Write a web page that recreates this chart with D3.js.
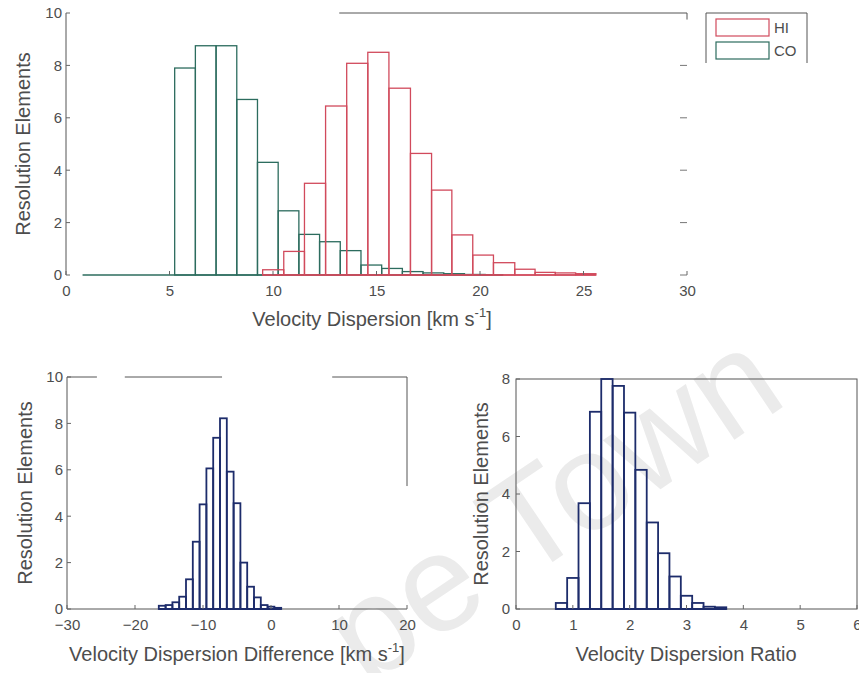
<!DOCTYPE html>
<html lang="en">
<head>
    <meta charset="UTF-8">
    <title>Velocity dispersion histograms</title>
    <script src="https://cdn.jsdelivr.net/npm/d3@7/dist/d3.min.js"></script>
    <style>
        body { margin: 0; background: #fff; }
        text { font-family: "Liberation Sans", Arial, sans-serif; fill: #4d4d4d; }
        .tick-label { font-size: 15px; }
        .axis-label { font-size: 20px; }
        .frame { fill: none; stroke: #555; stroke-width: 1; }
    </style>
</head>
<body>
<script>
    // --- data: bin edges (n+1) and counts (n) ---
    var coEdges = [0.8, 5.25, 6.25, 7.25, 8.25, 9.25, 10.25, 11.25, 12.25, 13.25, 14.25, 15.25, 16.25, 17.25, 18.25, 19.25, 20.25, 21.1];
    var coCounts = [0, 7.9, 8.75, 8.75, 6.7, 4.3, 2.45, 1.55, 1.27, 0.93, 0.38, 0.25, 0.13, 0.08, 0.05, 0.02, 0.01];
    var hiEdges = [9.5, 10.52, 11.52, 12.54, 13.56, 14.58, 15.6, 16.64, 17.66, 18.64, 19.65, 20.65, 21.68, 22.66, 23.64, 24.62, 25.6];
    var hiCounts = [0.2, 0.9, 3.5, 6.45, 8.08, 8.5, 7.13, 4.64, 3.24, 1.53, 0.76, 0.47, 0.22, 0.1, 0.08, 0.05];
    var diffEdges = [-16.5, -15.5, -14.5, -13.5, -12.5, -11.5, -10.5, -9.5, -8.5, -7.5, -6.5, -5.5, -4.5, -3.5, -2.5, -1.5, -0.5, 0.5, 1.5];
    var diffCounts = [0.14, 0.17, 0.29, 0.53, 1.28, 2.9, 4.51, 6.06, 7.38, 8.22, 5.92, 4.56, 2.0, 0.96, 0.5, 0.17, 0.1, 0.05];
    var ratioEdges = [0.7, 0.9, 1.1, 1.3, 1.5, 1.7, 1.9, 2.1, 2.3, 2.5, 2.7, 2.9, 3.1, 3.3, 3.5, 3.7];
    var ratioCounts = [0.21, 1.08, 3.68, 6.86, 8.0, 7.76, 6.83, 4.84, 3.01, 1.94, 1.13, 0.46, 0.21, 0.08, 0.06];

    // tick labels
    var topXTicks = [0, 5, 10, 15, 20, 25, 30];
    var topYTicks = [0, 2, 4, 6, 8, 10];
    var diffXTicks = [-30, -20, -10, 0, 10, 20];
    var diffYTicks = [0, 2, 4, 6, 8, 10];
    var ratioXTicks = [0, 1, 2, 3, 4, 5, 6];
    var ratioYTicks = [0, 2, 4, 6, 8];

    var legendNames = ["HI", "CO"];
    var hiColor = "#d14a5c", coColor = "#2c6c5e", navy = "#1d2c6b";

    var width = 859, height = 673;
    var svg = d3.select("body")
        .append("svg")
        .attr("width", width)
        .attr("height", height);

    // watermark, faint and behind everything
    svg.append("text")
        .attr("transform", "translate(366,688) rotate(-34)")
        .style("font-size", "138px")
        .style("fill", "#ebebeb")
        .text("pe Town");

    function makePanel(box, xDomain, yDomain) {
        var x = d3.scaleLinear().domain(xDomain).range([box.left, box.right]);
        var y = d3.scaleLinear().domain(yDomain).range([box.bottom, box.top]);
        return {x: x, y: y, box: box, g: svg.append("g")};
    }

    // outline histogram bars, one rect per bin
    function drawBars(p, edges, counts, color, lw) {
        var bins = counts.map(function (c, i) { return {x0: edges[i], x1: edges[i + 1], c: c}; });
        p.g.append("g").selectAll("rect")
            .data(bins)
            .enter()
            .append("rect")
            .attr("x", function (d) { return p.x(d.x0); })
            .attr("y", function (d) { return p.y(d.c); })
            .attr("width", function (d) { return p.x(d.x1) - p.x(d.x0); })
            .attr("height", function (d) { return p.y(0) - p.y(d.c); })
            .attr("fill", "none")
            .attr("stroke", color)
            .attr("stroke-width", lw);
        // baseline under the bins
        p.g.append("line")
            .attr("x1", p.x(edges[0])).attr("x2", p.x(edges[edges.length - 1]))
            .attr("y1", p.y(0)).attr("y2", p.y(0))
            .attr("stroke", color).attr("stroke-width", lw);
    }

    function tickLabels(p, xt, yt, xOff, yOff) {
        var xAxis = d3.axisBottom(p.x).tickValues(xt).tickFormat(d3.format("d")).tickSize(0).tickPadding(xOff);
        var yAxis = d3.axisLeft(p.y).tickValues(yt).tickFormat(d3.format("d")).tickSize(0).tickPadding(yOff);
        var gx = p.g.append("g").attr("transform", "translate(0," + p.box.bottom + ")").call(xAxis);
        var gy = p.g.append("g").attr("transform", "translate(" + p.box.left + ",0)").call(yAxis);
        [gx, gy].forEach(function (g) {
            g.select(".domain").remove();
            g.attr("font-size", null).attr("font-family", null);
            g.selectAll("text").attr("class", "tick-label").attr("fill", null);
        });
        // inner tick marks
        p.g.append("g").selectAll("line").data(xt).enter().append("line")
            .attr("x1", function (d) { return p.x(d); }).attr("x2", function (d) { return p.x(d); })
            .attr("y1", p.box.bottom).attr("y2", p.box.bottom - 4)
            .attr("stroke", "#666");
        p.g.append("g").selectAll("line").data(yt).enter().append("line")
            .attr("x1", p.box.left).attr("x2", p.box.left + 4)
            .attr("y1", function (d) { return p.y(d); }).attr("y2", function (d) { return p.y(d); })
            .attr("stroke", "#666");
    }

    function yLabel(p, cx, text) {
        p.g.append("text")
            .attr("class", "axis-label")
            .attr("text-anchor", "middle")
            .attr("transform", "translate(" + cx + "," + ((p.box.top + p.box.bottom) / 2) + ") rotate(-90)")
            .text(text);
    }

    function xLabel(p, cx, cy, text, unit) {
        var t = p.g.append("text")
            .attr("class", "axis-label")
            .attr("text-anchor", "middle")
            .attr("x", cx).attr("y", cy);
        t.append("tspan").text(text);
        if (unit) {
            t.append("tspan").text(" [km s");
            t.append("tspan").attr("dy", -9).style("font-size", "13px").text("-1");
            t.append("tspan").attr("dy", 9).text("]");
        }
    }

    function hline(p, x0, x1, yv) {
        p.g.append("line").attr("class", "frame")
            .attr("x1", p.x(x0)).attr("x2", p.x(x1))
            .attr("y1", p.y(yv)).attr("y2", p.y(yv));
    }
    function vline(p, xv, y0, y1) {
        p.g.append("line").attr("class", "frame")
            .attr("x1", p.x(xv)).attr("x2", p.x(xv))
            .attr("y1", p.y(y0)).attr("y2", p.y(y1));
    }

    // ===== top panel =====
    var topPanel = makePanel({left: 66, right: 687, top: 13, bottom: 275}, [0, 30], [0, 10]);
    vline(topPanel, 0, 0, 10);
    hline(topPanel, 13.2, 30, 10);
    vline(topPanel, 30, 9.75, 10);
    // right side ticks only (axis line faded in the scan)
    topPanel.g.append("g").selectAll("line").data(topYTicks.slice(0, 5)).enter().append("line")
        .attr("x1", topPanel.x(30) - 7).attr("x2", topPanel.x(30))
        .attr("y1", function (d) { return topPanel.y(d); }).attr("y2", function (d) { return topPanel.y(d); })
        .attr("stroke", "#777");
    drawBars(topPanel, coEdges, coCounts, coColor, 1.3);
    drawBars(topPanel, hiEdges, hiCounts, hiColor, 1.3);
    tickLabels(topPanel, topXTicks, topYTicks, 10, 4);
    yLabel(topPanel, 30, "Resolution Elements");
    xLabel(topPanel, 372, 326, "Velocity Dispersion", true);

    // legend
    var leg = svg.append("g");
    leg.append("path").attr("class", "frame")
        .attr("d", "M706,63 L706,13 L807,13 L807,63");
    var legColors = [hiColor, coColor];
    leg.selectAll(".sw").data(legendNames).enter().append("rect")
        .attr("x", 716).attr("width", 53)
        .attr("y", function (d, i) { return 19 + i * 23; })
        .attr("height", 17)
        .attr("fill", "none")
        .attr("stroke", function (d, i) { return legColors[i]; })
        .attr("stroke-width", 1.2);
    leg.selectAll(".lt").data(legendNames).enter().append("text")
        .attr("class", "tick-label")
        .attr("x", 774)
        .attr("y", function (d, i) { return 33 + i * 23; })
        .text(function (d) { return d; });

    // ===== bottom left: difference =====
    var diff = makePanel({left: 67, right: 407, top: 377, bottom: 609}, [-30, 20], [0, 10]);
    vline(diff, -30, 0, 10);
    hline(diff, -30, 20, 0);
    hline(diff, -30, -25.6, 10);
    hline(diff, -21.5, -7.2, 10);
    hline(diff, 9, 20, 10);
    vline(diff, 20, 5.3, 10);
    drawBars(diff, diffEdges, diffCounts, navy, 1.8);
    tickLabels(diff, diffXTicks, diffYTicks, 10, 4);
    yLabel(diff, 32, "Resolution Elements");
    xLabel(diff, 237, 661, "Velocity Dispersion Difference", true);

    // ===== bottom right: ratio =====
    var ratio = makePanel({left: 516, right: 857, top: 379, bottom: 609}, [0, 6], [0, 8]);
    ratio.g.append("rect").attr("class", "frame")
        .attr("x", ratio.box.left).attr("y", ratio.box.top)
        .attr("width", ratio.box.right - ratio.box.left)
        .attr("height", ratio.box.bottom - ratio.box.top);
    drawBars(ratio, ratioEdges, ratioCounts, navy, 1.8);
    tickLabels(ratio, ratioXTicks, ratioYTicks, 10, 6);
    yLabel(ratio, 488, "Resolution Elements");
    xLabel(ratio, 686, 661, "Velocity Dispersion Ratio", false);
</script>
</body>
</html>
